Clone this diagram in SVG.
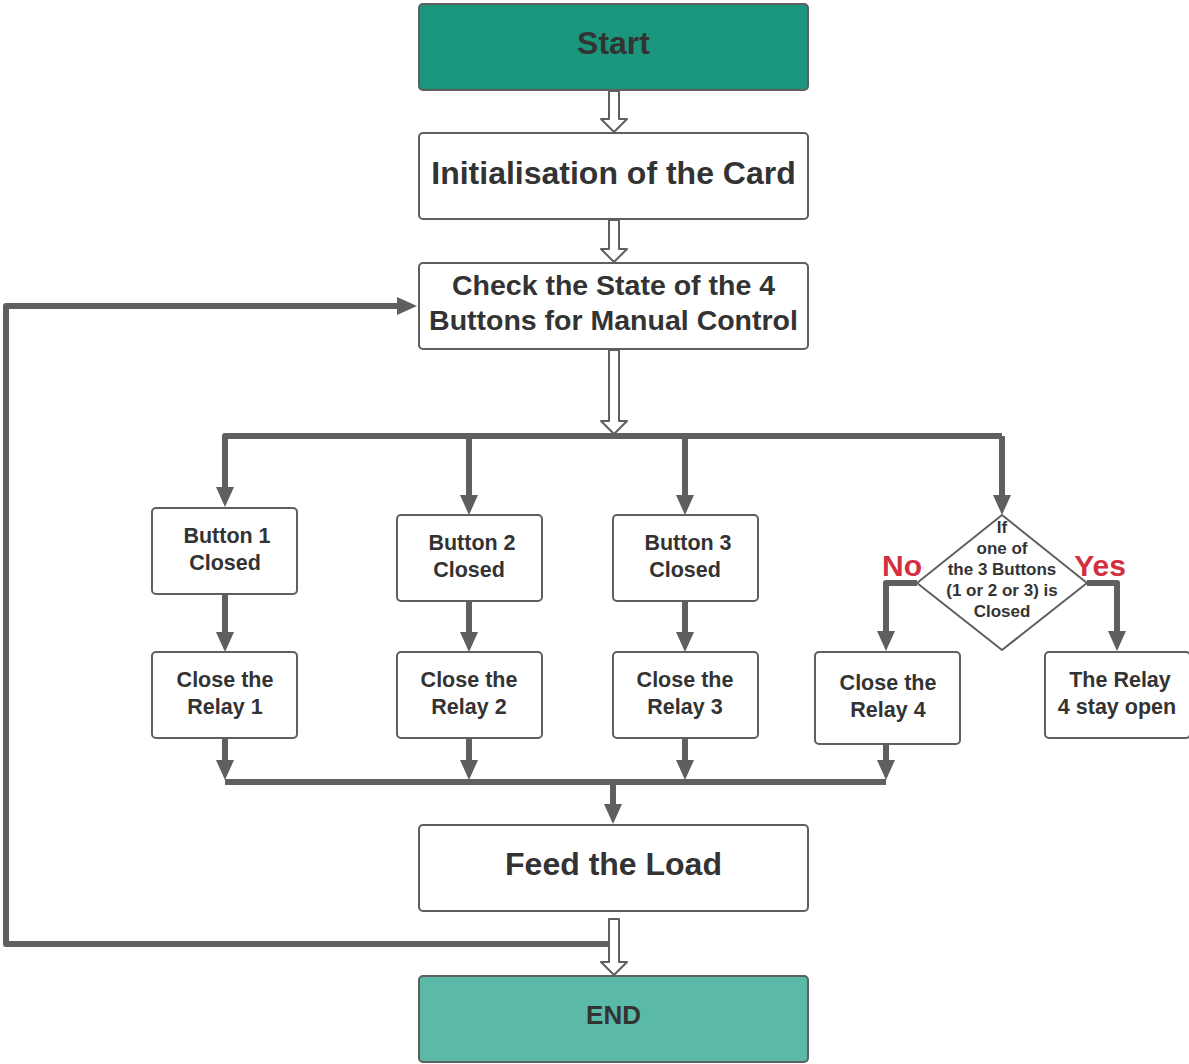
<svg xmlns="http://www.w3.org/2000/svg" width="1189" height="1064" viewBox="0 0 1189 1064">
<style>
.box{fill:#fff;stroke:#5f5f5f;stroke-width:2}
.t{font-family:"Liberation Sans",Arial,sans-serif;font-weight:bold;fill:#333;text-anchor:middle}
.s{font-size:21.5px}
.con{fill:none;stroke:#5f5f5f;stroke-width:6;stroke-linejoin:round}
.hol{fill:#fff;stroke:#5f5f5f;stroke-width:2;stroke-linejoin:round}
.lbl{font-family:"Liberation Sans",Arial,sans-serif;font-weight:bold;fill:#d32f3f;text-anchor:middle;font-size:30px}
</style>
<defs>
<marker id="ah" markerUnits="userSpaceOnUse" viewBox="0 0 20 18" refX="0" refY="9" markerWidth="20" markerHeight="18" orient="auto">
<path d="M0,0 L20,9 L0,18 z" fill="#5f5f5f"/>
</marker>
</defs>
<g id="connectors">
<polygon class="hol" points="609,91 619,91 619,119 627,119 614,132 601,119 609,119"/>
<polygon class="hol" points="609,220 619,220 619,249 627,249 614,262 601,249 609,249"/>
<polygon class="hol" points="609,350 619,350 619,421 627,421 614,434 601,421 609,421"/>
<path class="con" d="M1002,436 L225,436 L225,487" marker-end="url(#ah)"/>
<path class="con" d="M1002,436 L1002,495" marker-end="url(#ah)"/>
<path class="con" d="M469,436 L469,495" marker-end="url(#ah)"/>
<path class="con" d="M685,436 L685,495" marker-end="url(#ah)"/>
<path class="con" d="M225,594 L225,632" marker-end="url(#ah)"/>
<path class="con" d="M469,601 L469,632" marker-end="url(#ah)"/>
<path class="con" d="M685,601 L685,632" marker-end="url(#ah)"/>
<path class="con" d="M917,583 L886,583 L886,631" marker-end="url(#ah)"/>
<path class="con" d="M1087,583 L1117,583 L1117,631" marker-end="url(#ah)"/>
<path class="con" d="M225,738 L225,760" marker-end="url(#ah)"/>
<path class="con" d="M469,738 L469,760" marker-end="url(#ah)"/>
<path class="con" d="M685,738 L685,760" marker-end="url(#ah)"/>
<path class="con" d="M886,744 L886,760" marker-end="url(#ah)"/>
<path class="con" d="M225,782 L886,782"/>
<path class="con" d="M613,782 L613,804" marker-end="url(#ah)"/>
<path class="con" d="M608,944 L6,944 L6,306 L397,306" marker-end="url(#ah)"/>
<polygon class="hol" points="609,919 619,919 619,962 627,962 614,975 601,962 609,962"/>
<text class="lbl" x="902" y="576">No</text>
<text class="lbl" x="1100" y="576">Yes</text>
</g>
<g id="start">
<rect x="419" y="4" width="389" height="86" rx="4" fill="#1a967d" stroke="#5f5f5f" stroke-width="2"/>
<text class="t" x="613.5" y="54" font-size="32">Start</text>
</g>
<g id="init">
<rect class="box" x="419" y="133" width="389" height="86" rx="4"/>
<text class="t" x="613.5" y="184" font-size="32">Initialisation of the Card</text>
</g>
<g id="check">
<rect class="box" x="419" y="263" width="389" height="86" rx="4"/>
<text class="t" x="613.5" y="295" font-size="28.5">Check the State of the 4</text>
<text class="t" x="613.5" y="330" font-size="28.5">Buttons for Manual Control</text>
</g>
<g id="button1">
<rect class="box" x="152" y="508" width="145" height="86" rx="4"/>
<text class="t s" x="227" y="543">Button 1</text>
<text class="t s" x="225" y="570">Closed</text>
</g>
<g id="button2">
<rect class="box" x="397" y="515" width="145" height="86" rx="4"/>
<text class="t s" x="472" y="550">Button 2</text>
<text class="t s" x="469" y="577">Closed</text>
</g>
<g id="button3">
<rect class="box" x="613" y="515" width="145" height="86" rx="4"/>
<text class="t s" x="688" y="550">Button 3</text>
<text class="t s" x="685" y="577">Closed</text>
</g>
<g id="relay1">
<rect class="box" x="152" y="652" width="145" height="86" rx="4"/>
<text class="t s" x="225" y="687">Close the</text>
<text class="t s" x="225" y="714">Relay 1</text>
</g>
<g id="relay2">
<rect class="box" x="397" y="652" width="145" height="86" rx="4"/>
<text class="t s" x="469" y="687">Close the</text>
<text class="t s" x="469" y="714">Relay 2</text>
</g>
<g id="relay3">
<rect class="box" x="613" y="652" width="145" height="86" rx="4"/>
<text class="t s" x="685" y="687">Close the</text>
<text class="t s" x="685" y="714">Relay 3</text>
</g>
<g id="relay4">
<rect class="box" x="815" y="652" width="145" height="92" rx="4"/>
<text class="t s" x="888" y="690">Close the</text>
<text class="t s" x="888" y="717">Relay 4</text>
</g>
<g id="decision">
<polygon class="box" points="1002,515 1087,583 1002,650 917,583" stroke-linejoin="round"/>
<text class="t" x="1002" y="533" font-size="17">If</text>
<text class="t" x="1002" y="554" font-size="17">one of</text>
<text class="t" x="1002" y="575" font-size="17">the 3 Buttons</text>
<text class="t" x="1002" y="596" font-size="17">(1 or 2 or 3) is</text>
<text class="t" x="1002" y="617" font-size="17">Closed</text>
</g>
<g id="stayopen">
<rect class="box" x="1045" y="652" width="145" height="86" rx="4"/>
<text class="t s" x="1120" y="687">The Relay</text>
<text class="t s" x="1117" y="714">4 stay open</text>
</g>
<g id="feed">
<rect class="box" x="419" y="825" width="389" height="86" rx="4"/>
<text class="t" x="613.5" y="875" font-size="32">Feed the Load</text>
</g>
<g id="end">
<rect x="419" y="976" width="389" height="86" rx="4" fill="#5bb9a8" stroke="#5f5f5f" stroke-width="2"/>
<text class="t" x="613.5" y="1024" font-size="26">END</text>
</g>
</svg>
